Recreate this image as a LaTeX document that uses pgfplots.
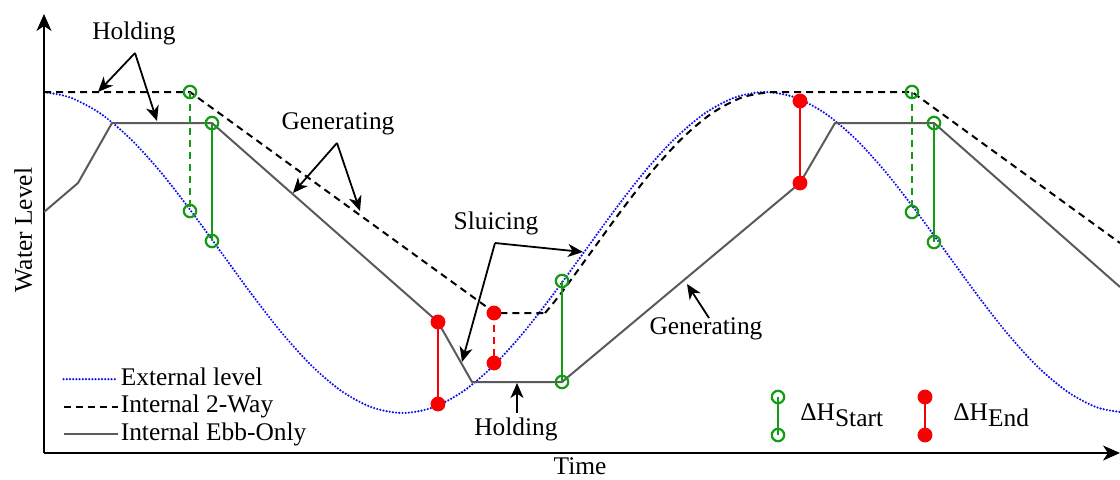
\documentclass[border=0pt]{standalone}
\usepackage{pgfplots}
\pgfplotsset{compat=1.18}
\usepackage{fontspec}
\setmainfont{Liberation Serif}
\usetikzlibrary{arrows.meta}

\definecolor{extblue}{RGB}{15,15,240}
\definecolor{ebbgray}{RGB}{90,90,90}
\definecolor{startgreen}{RGB}{20,155,20}
\definecolor{endred}{RGB}{250,0,0}

\pgfplotsset{
  startmark/.style={startgreen, line width=1pt, mark=o, mark size=3.1pt, mark options={solid, line width=1.1pt}},
  endmark/.style={endred, line width=1pt, mark=*, mark size=3.2pt, mark options={solid}},
  twoway/.style={black, line width=1pt, dash pattern=on 3.5pt off 2.5pt},
}

\begin{document}
\begin{tikzpicture}[font=\fontsize{12.7}{15}\selectfont,
  note/.style={-{Stealth[length=7.5pt,width=6.5pt,inset=2.2pt]}, line width=0.9pt}]
\begin{axis}[
  at={(22pt,13pt)}, anchor=south west,
  scale only axis, width=538pt, height=219.5pt,
  xmin=44, xmax=1120, ymin=26, ymax=465,
  axis lines=left,
  axis line style={line width=1pt, -{Stealth[length=8.5pt,width=7.5pt,inset=2.5pt]}},
  xtick=\empty, ytick=\empty,
  clip mode=individual,
  legend style={at={(axis cs:62,114)}, anchor=north west, draw=none, fill=none,
    inner sep=0pt, font=\fontsize{12.7}{15}\selectfont,
    nodes={inner sep=1pt, text height=9pt, text depth=2.75pt}, row sep=0pt},
  legend cell align=left,
  legend image code/.code={\draw[#1] (0pt,0pt) -- (27pt,0pt);},
]
% external (sea) level
\addplot[extblue, line width=1.2pt, line cap=round, dash pattern=on 0pt off 1.6pt, smooth] coordinates {
 (44,386.9) (70.2,381.5) (100.4,365.5) (130.6,340.0) (160.8,306.8) (191.0,268.0)
 (221.3,226.5) (251.5,185.0) (281.7,146.3) (311.9,113.0) (342.1,87.5) (372.3,71.5)
 (402.5,66.0) (432.7,71.5) (462.9,87.5) (493.1,113.0) (523.3,146.3) (553.5,185.0)
 (583.8,226.5) (614.0,268.0) (644.2,306.8) (674.4,340.0) (704.6,365.5) (734.8,381.5)
 (765.0,387.0) (795.2,381.5) (825.4,365.5) (855.6,340.0) (885.8,306.8) (916.0,268.0)
 (946.3,226.5) (976.5,185.0) (1006.7,146.3) (1036.9,113.0) (1067.1,87.5) (1097.3,71.5)
 (1127.5,66.0)};
\addlegendentry{External level}

% two-way operation: hold, generate, sluice, hold, generate
\addplot[twoway] coordinates {
 (44,387) (190,387) (495,166) (545,166)};
\addlegendentry{Internal 2-Way}
\addplot[twoway, smooth, forget plot] coordinates {
 (545,166) (560.5,185.0) (590.8,226.5) (621.0,268.0) (651.2,306.8) (681.4,340.0)
 (711.6,365.5) (741.8,381.5) (770,387)};
\addplot[twoway, forget plot] coordinates {
 (770,387) (912,387) (1120,236)};

% ebb-only operation
\addplot[ebbgray, line width=1pt] coordinates {
 (44,267) (78,296) (112,356) (212,356) (438,157) (472,97) (562,97)
 (800,296) (835,356) (934,356) (1120,192)};
\addlegendentry{Internal Ebb-Only}

% head differences at start and end of generation
\addplot[startmark, dash pattern=on 3.5pt off 2.5pt, forget plot]
 coordinates {(190,387) (190,268)};
\addplot[startmark, forget plot]
 coordinates {(212,356) (212,238)};
\addplot[endmark, forget plot]
 coordinates {(438,157) (438,75)};
\addplot[endmark, dash pattern=on 3.5pt off 2.5pt, forget plot]
 coordinates {(494,166) (494,116)};
\addplot[startmark, forget plot]
 coordinates {(562,198) (562,97)};
\addplot[endmark, forget plot]
 coordinates {(800,378) (800,296)};
\addplot[startmark, dash pattern=on 3.5pt off 2.5pt, forget plot]
 coordinates {(912,387) (912,267)};
\addplot[startmark, forget plot]
 coordinates {(934,356) (934,237)};

% key for the head-difference markers
\addplot[startmark, forget plot]
 coordinates {(778,82) (778,44)};
\addplot[endmark, forget plot]
 coordinates {(925,82) (925,44)};
\node[anchor=base west, inner sep=0pt] at (axis cs:800,59) {ΔH\raisebox{-3pt}{Start}};
\node[anchor=base west, inner sep=0pt] at (axis cs:953,59) {ΔH\raisebox{-3pt}{End}};

% axis titles
\node[rotate=90, anchor=base] at (axis cs:32,249) {Water Level};
\node[anchor=base] at (axis cs:580,5) {Time};

% operating-mode annotations
\node[anchor=base] at (axis cs:134,440) {Holding};
\draw[note] (axis cs:135,426) -- (axis cs:98,387);
\draw[note] (axis cs:135,426) -- (axis cs:157,358);

\node[anchor=base] at (axis cs:338,350) {Generating};
\draw[note] (axis cs:337,336) -- (axis cs:293,286);
\draw[note] (axis cs:337,336) -- (axis cs:360,268);

\node[anchor=base] at (axis cs:496,250) {Sluicing};
\draw[note] (axis cs:495,236) -- (axis cs:462,117);
\draw[note] (axis cs:495,236) -- (axis cs:583,227);

\node[anchor=base] at (axis cs:516,44) {Holding};
\draw[note] (axis cs:517,66) -- (axis cs:517,96);

\node[anchor=base] at (axis cs:706,145) {Generating};
\draw[note] (axis cs:709,161) -- (axis cs:687,195);
\end{axis}
\pgfresetboundingbox
\path[use as bounding box] (0,0) rectangle (560pt,239.5pt);
\end{tikzpicture}
\end{document}
